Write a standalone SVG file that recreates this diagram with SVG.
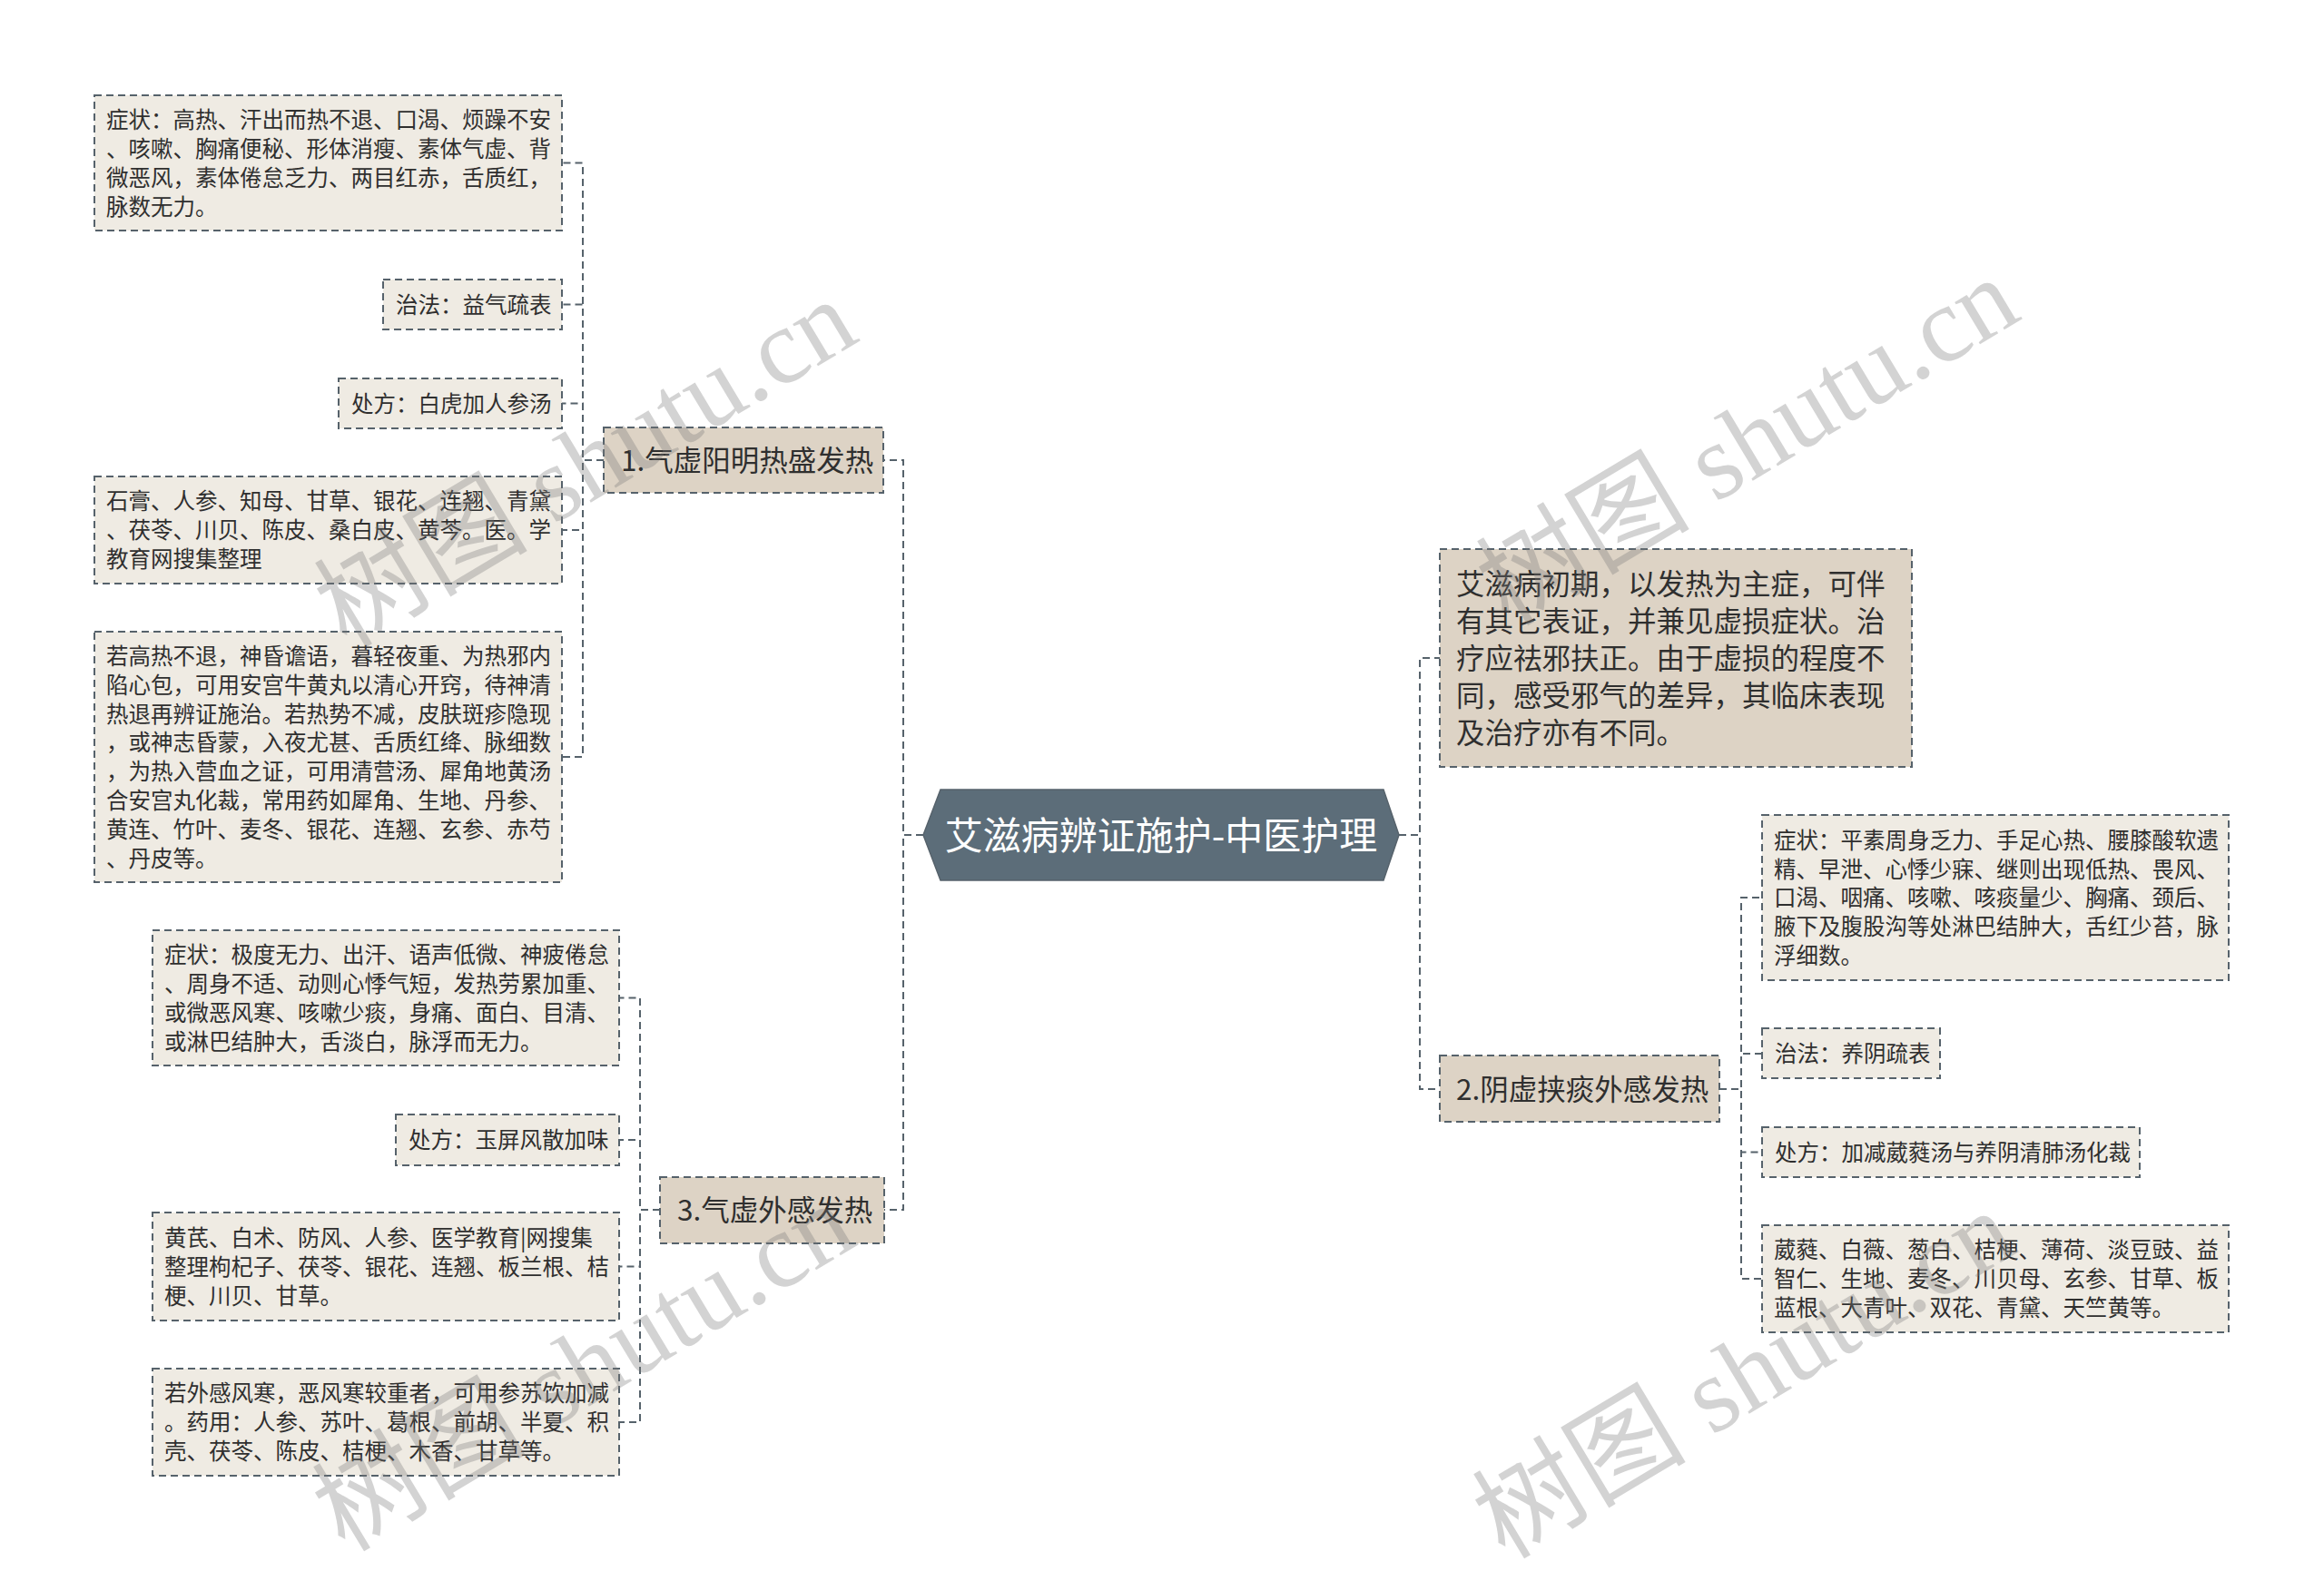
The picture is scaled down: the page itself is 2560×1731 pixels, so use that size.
<svg xmlns="http://www.w3.org/2000/svg" width="2560" height="1731" viewBox="0 0 2560 1731">
<style>
.bg{fill:#ffffff}
.leaf{fill:#efebe3;stroke:#56626b;stroke-width:2;stroke-dasharray:8 5}
.cat{fill:#ddd3c5;stroke:#56626b;stroke-width:2;stroke-dasharray:8 5}
.root{fill:#5c6d79;stroke:#56626b;stroke-width:1.5}
.t{font-family:"Noto Sans CJK SC","Noto Sans",sans-serif;font-size:24.5px;fill:#2f2f2f}
.tc{font-family:"Noto Sans CJK SC","Noto Sans",sans-serif;font-size:31.5px;fill:#2f2f2f}
.tr{font-family:"Noto Sans CJK SC","Noto Sans",sans-serif;font-size:42px;fill:#ffffff}
.conn path{fill:none;stroke:#56626b;stroke-width:2;stroke-dasharray:8 5}
.wm{font-family:"Liberation Serif","Noto Sans CJK SC",serif;font-size:118px;fill:#7a7a7a;fill-opacity:0.33}
</style>
<rect class="bg" x="0" y="0" width="2560" height="1731"/>

<g id="connectors" class="conn">
<path d="M1017,920 H995 V507 H973"/>
<path d="M1017,920 H995 V1333 H974"/>
<path d="M1541,920 H1564 V725 H1586"/>
<path d="M1541,920 H1564 V1200 H1586"/>
<path d="M665,507 H642 V179.5 H619"/>
<path d="M665,507 H642 V335.5 H619"/>
<path d="M665,507 H642 V444.5 H619"/>
<path d="M665,507 H642 V584 H619"/>
<path d="M665,507 H642 V834 H619"/>
<path d="M727,1333 H705 V1099.5 H682"/>
<path d="M727,1333 H705 V1256 H682"/>
<path d="M727,1333 H705 V1395.5 H682"/>
<path d="M727,1333 H705 V1567 H682"/>
<path d="M1894,1200 H1918 V989 H1941"/>
<path d="M1894,1200 H1918 V1161 H1941"/>
<path d="M1894,1200 H1918 V1269.5 H1941"/>
<path d="M1894,1200 H1918 V1409 H1941"/>
</g>

<g id="root">
<polygon class="root" points="1017,920 1036,870 1524,870 1541,920 1524,970 1036,970"/>
<text class="tr" x="1279" y="936" text-anchor="middle">艾滋病辨证施护-中医护理</text>
</g>

<g id="intro">
<rect class="cat" x="1586" y="605" width="520" height="240"/>
<text class="tc" x="1604"><tspan x="1604" y="655">艾滋病初期，以发热为主症，可伴</tspan><tspan x="1604" y="696">有其它表证，并兼见虚损症状。治</tspan><tspan x="1604" y="737">疗应祛邪扶正。由于虚损的程度不</tspan><tspan x="1604" y="778">同，感受邪气的差异，其临床表现</tspan><tspan x="1604" y="819">及治疗亦有不同。</tspan></text>
</g>

<g id="cat1">
<rect class="cat" x="665" y="471" width="308" height="72"/>
<text class="tc" x="684" y="519">1.气虚阳明热盛发热</text>
</g>
<g id="cat2">
<rect class="cat" x="1586" y="1163" width="308" height="73"/>
<text class="tc" x="1604" y="1212">2.阴虚挟痰外感发热</text>
</g>
<g id="cat3">
<rect class="cat" x="727" y="1297" width="247" height="73"/>
<text class="tc" x="746" y="1345">3.气虚外感发热</text>
</g>

<g id="a1">
<rect class="leaf" x="104" y="105" width="515" height="149"/>
<text class="t"><tspan x="117" y="141">症状：高热、汗出而热不退、口渴、烦躁不安</tspan><tspan x="117" y="173">、咳嗽、胸痛便秘、形体消瘦、素体气虚、背</tspan><tspan x="117" y="205">微恶风，素体倦怠乏力、两目红赤，舌质红，</tspan><tspan x="117" y="237">脉数无力。</tspan></text>
</g>
<g id="a2">
<rect class="leaf" x="422" y="308" width="197" height="55"/>
<text class="t" x="436" y="345">治法：益气疏表</text>
</g>
<g id="a3">
<rect class="leaf" x="373" y="417" width="246" height="55"/>
<text class="t" x="387" y="454">处方：白虎加人参汤</text>
</g>
<g id="a4">
<rect class="leaf" x="104" y="525" width="515" height="118"/>
<text class="t"><tspan x="117" y="561">石膏、人参、知母、甘草、银花、连翘、青黛</tspan><tspan x="117" y="593">、茯苓、川贝、陈皮、桑白皮、黄芩。医。学</tspan><tspan x="117" y="625">教育网搜集整理</tspan></text>
</g>
<g id="a5">
<rect class="leaf" x="104" y="696" width="515" height="276"/>
<text class="t"><tspan x="117" y="732">若高热不退，神昏谵语，暮轻夜重、为热邪内</tspan><tspan x="117" y="764">陷心包，可用安宫牛黄丸以清心开窍，待神清</tspan><tspan x="117" y="796">热退再辨证施治。若热势不减，皮肤斑疹隐现</tspan><tspan x="117" y="827">，或神志昏蒙，入夜尤甚、舌质红绛、脉细数</tspan><tspan x="117" y="859">，为热入营血之证，可用清营汤、犀角地黄汤</tspan><tspan x="117" y="891">合安宫丸化裁，常用药如犀角、生地、丹参、</tspan><tspan x="117" y="923">黄连、竹叶、麦冬、银花、连翘、玄参、赤芍</tspan><tspan x="117" y="955">、丹皮等。</tspan></text>
</g>

<g id="b1">
<rect class="leaf" x="168" y="1025" width="514" height="149"/>
<text class="t"><tspan x="181" y="1061">症状：极度无力、出汗、语声低微、神疲倦怠</tspan><tspan x="181" y="1093">、周身不适、动则心悸气短，发热劳累加重、</tspan><tspan x="181" y="1125">或微恶风寒、咳嗽少痰，身痛、面白、目清、</tspan><tspan x="181" y="1157">或淋巴结肿大，舌淡白，脉浮而无力。</tspan></text>
</g>
<g id="b2">
<rect class="leaf" x="436" y="1228" width="246" height="56"/>
<text class="t" x="450" y="1265">处方：玉屏风散加味</text>
</g>
<g id="b3">
<rect class="leaf" x="168" y="1336" width="514" height="119"/>
<text class="t"><tspan x="181" y="1373">黄芪、白术、防风、人参、医学教育|网搜集</tspan><tspan x="181" y="1405">整理枸杞子、茯苓、银花、连翘、板兰根、桔</tspan><tspan x="181" y="1437">梗、川贝、甘草。</tspan></text>
</g>
<g id="b4">
<rect class="leaf" x="168" y="1508" width="514" height="118"/>
<text class="t"><tspan x="181" y="1544">若外感风寒，恶风寒较重者，可用参苏饮加减</tspan><tspan x="181" y="1576">。药用：人参、苏叶、葛根、前胡、半夏、积</tspan><tspan x="181" y="1608">壳、茯苓、陈皮、桔梗、木香、甘草等。</tspan></text>
</g>

<g id="r1">
<rect class="leaf" x="1941" y="898" width="514" height="182"/>
<text class="t"><tspan x="1954" y="935">症状：平素周身乏力、手足心热、腰膝酸软遗</tspan><tspan x="1954" y="967">精、早泄、心悸少寐、继则出现低热、畏风、</tspan><tspan x="1954" y="998">口渴、咽痛、咳嗽、咳痰量少、胸痛、颈后、</tspan><tspan x="1954" y="1030">腋下及腹股沟等处淋巴结肿大，舌红少苔，脉</tspan><tspan x="1954" y="1062">浮细数。</tspan></text>
</g>
<g id="r2">
<rect class="leaf" x="1941" y="1133" width="196" height="55"/>
<text class="t" x="1955" y="1170">治法：养阴疏表</text>
</g>
<g id="r3">
<rect class="leaf" x="1941" y="1242" width="416" height="55"/>
<text class="t" x="1955" y="1279">处方：加减葳蕤汤与养阴清肺汤化裁</text>
</g>
<g id="r4">
<rect class="leaf" x="1941" y="1350" width="514" height="118"/>
<text class="t"><tspan x="1954" y="1386">葳蕤、白薇、葱白、桔梗、薄荷、淡豆豉、益</tspan><tspan x="1954" y="1418">智仁、生地、麦冬、川贝母、玄参、甘草、板</tspan><tspan x="1954" y="1450">蓝根、大青叶、双花、青黛、天竺黄等。</tspan></text>
</g>

<g id="watermarks">
<text class="wm" x="647" y="550" text-anchor="middle" transform="rotate(-31 647 514)">树图 shutu.cn</text>
<text class="wm" x="1927" y="526" text-anchor="middle" transform="rotate(-31 1927 490)">树图 shutu.cn</text>
<text class="wm" x="645" y="1546" text-anchor="middle" transform="rotate(-31 645 1510)">树图 shutu.cn</text>
<text class="wm" x="1923" y="1554" text-anchor="middle" transform="rotate(-31 1923 1518)">树图 shutu.cn</text>
</g>
</svg>
